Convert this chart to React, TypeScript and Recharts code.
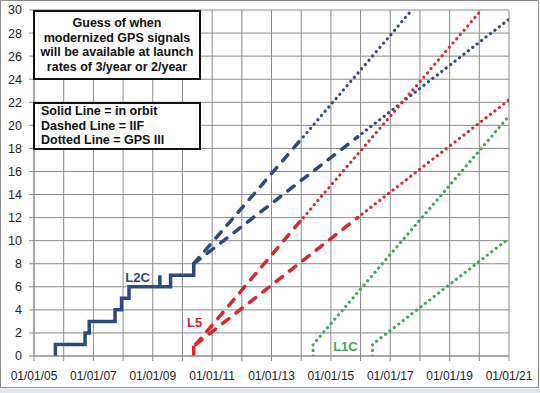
import React from "react";
import { LineChart, Line, XAxis, YAxis, CartesianGrid, ReferenceDot } from "recharts";

type Pt = { x: number; y: number };

// x values are decimal years, y values are satellites broadcasting the signal
const l2cOrbit: Pt[] = [
  { x: 2005.72, y: 0 }, { x: 2005.72, y: 1 }, { x: 2006.72, y: 1 }, { x: 2006.72, y: 2 },
  { x: 2006.86, y: 2 }, { x: 2006.86, y: 3 }, { x: 2007.73, y: 3 }, { x: 2007.73, y: 4 },
  { x: 2007.95, y: 4 }, { x: 2007.95, y: 5 }, { x: 2008.2, y: 5 }, { x: 2008.2, y: 6 },
  { x: 2009.24, y: 6 }, { x: 2009.24, y: 7 }, { x: 2009.24, y: 6 }, { x: 2009.6, y: 6 },
  { x: 2009.6, y: 7 }, { x: 2010.38, y: 7 }, { x: 2010.38, y: 8 },
];
const l2cIIF3: Pt[] = [{ x: 2010.38, y: 8 }, { x: 2014.07, y: 19 }];
const l2cIIF2: Pt[] = [{ x: 2010.38, y: 8 }, { x: 2015.9, y: 19 }];
const l2cIII3: Pt[] = [{ x: 2014.07, y: 19 }, { x: 2017.73, y: 30 }];
const l2cIII2: Pt[] = [{ x: 2015.9, y: 19 }, { x: 2021, y: 29.2 }];

const l5Orbit: Pt[] = [{ x: 2010.38, y: 0 }, { x: 2010.38, y: 0.9 }];
const l5IIF3: Pt[] = [{ x: 2010.45, y: 1 }, { x: 2014.07, y: 12 }];
const l5IIF2: Pt[] = [{ x: 2010.45, y: 1 }, { x: 2015.9, y: 12 }];
const l5III3: Pt[] = [{ x: 2014.07, y: 12 }, { x: 2020.07, y: 30 }];
const l5III2: Pt[] = [{ x: 2015.9, y: 12 }, { x: 2021, y: 22.2 }];

const l1cIII3: Pt[] = [{ x: 2014.4, y: 0 }, { x: 2014.4, y: 1 }, { x: 2021, y: 20.8 }];
const l1cIII2: Pt[] = [{ x: 2016.4, y: 0 }, { x: 2016.4, y: 1 }, { x: 2021, y: 10.2 }];

const years = Array.from({ length: 17 }, (_, i) => 2005 + i);
const yTicks = Array.from({ length: 16 }, (_, i) => i * 2);

const BLUE = "#2c4a7e";
const RED = "#d7282e";
const GREEN = "#3aa857";
const FONT = "'Liberation Sans', Arial, sans-serif";

const fmtYear = (v: number) => (v % 2 === 1 ? `01/01/${String(v % 100).padStart(2, "0")}` : "");

const solid = { strokeWidth: 3.5, strokeLinejoin: "miter" as const, dot: false, isAnimationActive: false };
const dashed = { strokeWidth: 3.5, strokeDasharray: "8 9", strokeLinecap: "round" as const, dot: false, isAnimationActive: false };
const dotted = { strokeWidth: 3.2, strokeDasharray: "0.01 5.6", strokeLinecap: "round" as const, dot: false, isAnimationActive: false };

const boxStyle: React.CSSProperties = {
  position: "absolute",
  left: 33,
  width: 168,
  border: "2px solid #111",
  background: "#fff",
  boxSizing: "border-box",
  fontFamily: FONT,
  fontWeight: "bold",
  fontSize: 12.5,
  lineHeight: "14.5px",
  color: "#111",
  display: "flex",
  flexDirection: "column",
  justifyContent: "center",
};

const tagLabel = (text: string, color: string) => ({
  value: text,
  position: "center" as const,
  fill: color,
  fontSize: 13,
  fontWeight: "bold",
  fontFamily: FONT,
});

export default function App() {
  return (
    <div style={{ position: "absolute", left: 0, top: 0, width: 540, height: 393, background: "#fff" }}>
      <div style={{ position: "absolute", left: 0, top: 0, width: 539, height: 388, border: "1px solid #8c8c8c", boxSizing: "border-box" }} />
      <div style={{ position: "absolute", left: 0, top: 389, width: 540, height: 4, background: "#dbe4ef" }} />
      <LineChart width={540} height={393} margin={{ top: 10, right: 31, left: 0, bottom: 0 }}>
        <CartesianGrid stroke="#8a8a8a" strokeWidth={1} verticalValues={years} horizontalValues={yTicks} />
        <XAxis
          type="number"
          dataKey="x"
          domain={[2005, 2021]}
          ticks={years}
          interval={0}
          tickFormatter={fmtYear}
          height={37}
          tickSize={5}
          tickMargin={10}
          stroke="#8a8a8a"
          tick={{ fill: "#222", fontSize: 12, fontFamily: FONT }}
          allowDataOverflow
        />
        <YAxis
          type="number"
          domain={[0, 30]}
          ticks={yTicks}
          interval={0}
          width={34}
          tickSize={5}
          tickMargin={7}
          stroke="#8a8a8a"
          tick={{ fill: "#222", fontSize: 12.5, fontFamily: FONT }}
          allowDataOverflow
        />
        <Line data={l2cOrbit} dataKey="y" stroke={BLUE} {...solid} />
        <Line data={l2cIIF3} dataKey="y" stroke={BLUE} {...dashed} />
        <Line data={l2cIIF2} dataKey="y" stroke={BLUE} {...dashed} />
        <Line data={l2cIII3} dataKey="y" stroke={BLUE} {...dotted} />
        <Line data={l2cIII2} dataKey="y" stroke={BLUE} {...dotted} />
        <Line data={l5Orbit} dataKey="y" stroke={RED} {...solid} />
        <Line data={l5IIF3} dataKey="y" stroke={RED} {...dashed} />
        <Line data={l5IIF2} dataKey="y" stroke={RED} {...dashed} />
        <Line data={l5III3} dataKey="y" stroke={RED} {...dotted} />
        <Line data={l5III2} dataKey="y" stroke={RED} {...dotted} />
        <Line data={l1cIII3} dataKey="y" stroke={GREEN} {...dotted} />
        <Line data={l1cIII2} dataKey="y" stroke={GREEN} {...dotted} />
        <ReferenceDot x={2008.49} y={6.85} r={0} stroke="none" label={tagLabel("L2C", BLUE)} />
        <ReferenceDot x={2010.41} y={2.9} r={0} stroke="none" label={tagLabel("L5", RED)} />
        <ReferenceDot x={2015.49} y={0.82} r={0} stroke="none" label={tagLabel("L1C", GREEN)} />
      </LineChart>
      <div style={{ ...boxStyle, top: 10, height: 70, textAlign: "center" }}>
        <div>Guess of when</div>
        <div>modernized GPS signals</div>
        <div>will be available at launch</div>
        <div>rates of 3/year or 2/year</div>
      </div>
      <div style={{ ...boxStyle, top: 102, height: 48, paddingLeft: 6 }}>
        <div>Solid Line = in orbit</div>
        <div>Dashed Line = IIF</div>
        <div>Dotted Line = GPS III</div>
      </div>
    </div>
  );
}
